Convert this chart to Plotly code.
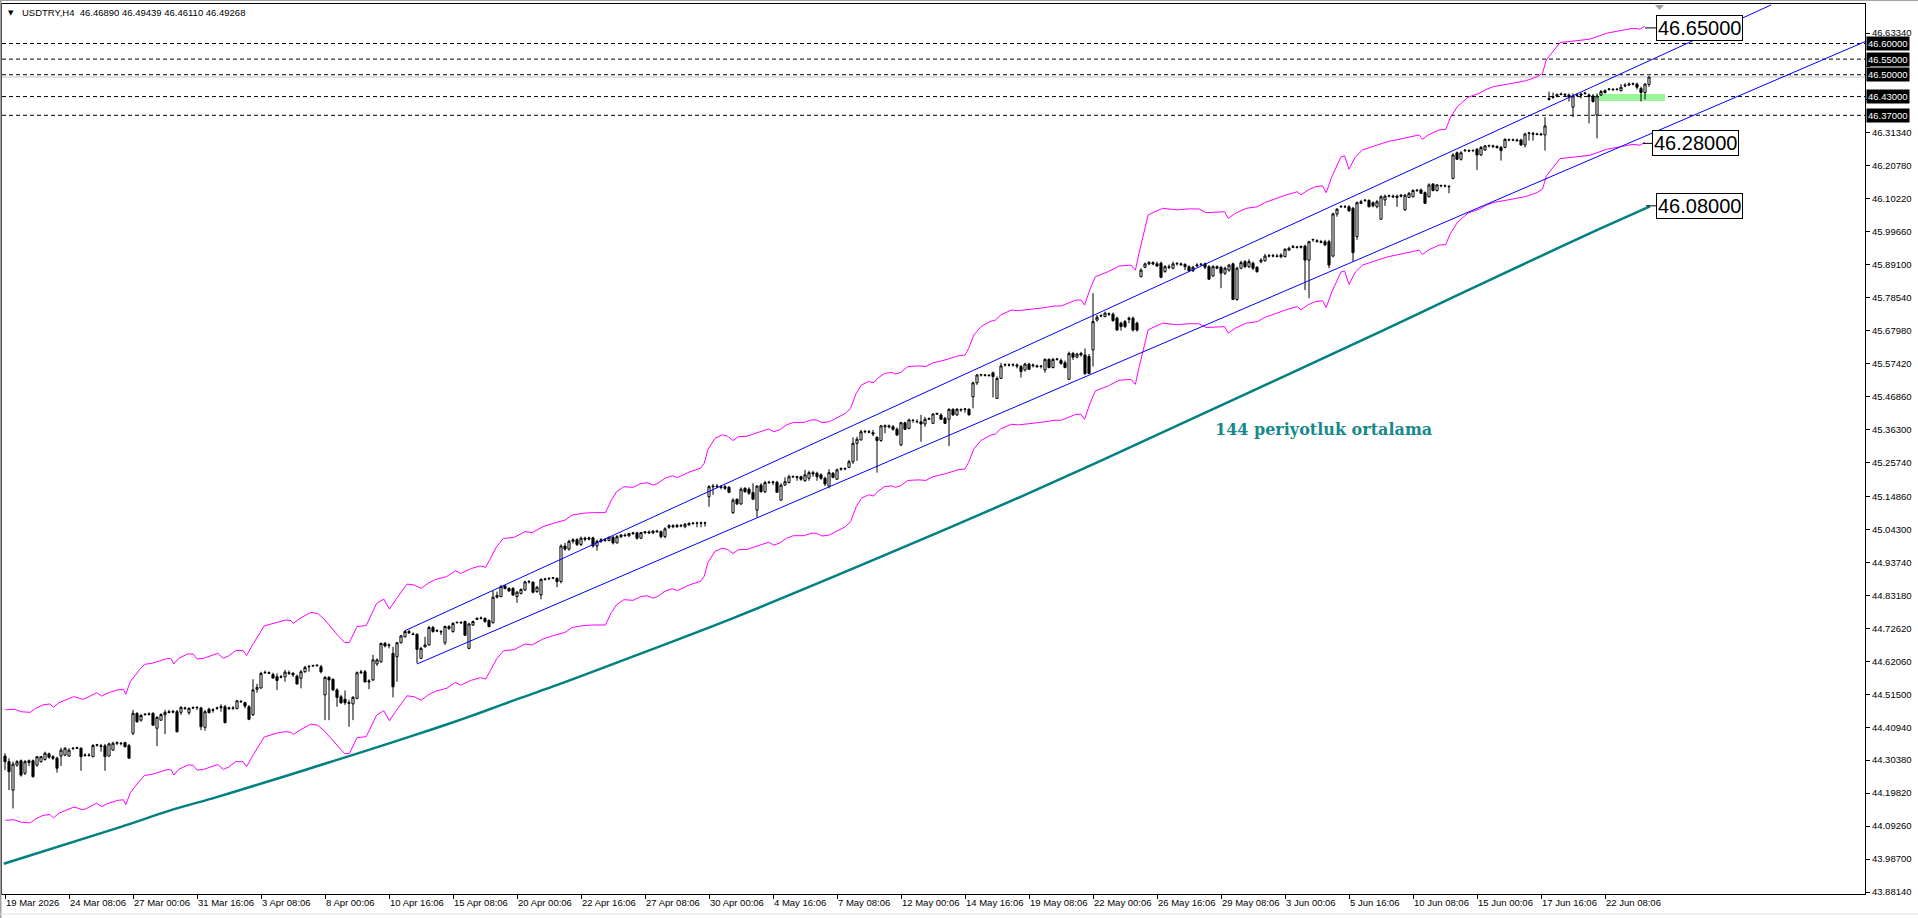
import plotly.graph_objects as go

# ---------------- data ----------------
symbol_title = "USDTRY,H4  46.46890 46.49439 46.46110 46.49268"

opens = [
44.317,44.299,44.208,44.288,44.302,44.262,44.296,44.302,44.288,44.299,
44.306,44.324,44.315,44.310,44.317,44.320,44.317,44.341,44.342,44.342,
44.319,44.319,44.315,44.352,44.350,44.350,44.317,44.336,44.358,44.358,
44.360,44.351,44.390,44.454,44.432,44.450,44.452,44.454,44.406,44.432,
44.449,44.459,44.460,44.459,44.457,44.471,44.456,44.471,44.473,44.471,
44.409,44.467,44.465,44.470,44.472,44.475,44.469,44.471,44.469,44.492,
44.488,44.475,44.449,44.531,44.535,44.584,44.584,44.578,44.571,44.571,
44.571,44.584,44.582,44.573,44.566,44.587,44.603,44.607,44.607,44.603,
44.513,44.569,44.563,44.529,44.507,44.499,44.488,44.484,44.502,44.584,
44.587,44.558,44.561,44.612,44.619,44.678,44.673,44.646,44.635,44.680,
44.699,44.716,44.708,44.707,44.630,44.667,44.673,44.729,44.719,44.716,
44.680,44.726,44.716,44.744,44.744,44.748,44.662,44.737,44.755,44.758,
44.758,44.751,44.744,44.826,44.828,44.862,44.854,44.854,44.828,44.838,
44.849,44.875,44.874,44.844,44.833,44.883,44.885,44.887,44.886,44.876,
44.990,44.980,45.005,45.010,44.995,45.015,45.012,45.016,44.990,45.005,
45.010,45.008,45.018,45.000,45.020,45.025,45.023,45.030,45.032,45.015,
45.033,45.035,45.032,45.038,45.036,45.020,45.050,45.055,45.052,45.056,
45.052,45.058,45.062,45.063,45.063,45.064,45.148,45.182,45.182,45.180,
45.180,45.178,45.097,45.140,45.125,45.175,45.172,45.161,45.105,45.185,
45.164,45.193,45.194,45.194,45.137,45.185,45.193,45.212,45.212,45.212,
45.199,45.207,45.225,45.223,45.218,45.207,45.182,45.223,45.204,45.236,
45.238,45.242,45.260,45.319,45.330,45.356,45.356,45.353,45.338,45.328,
45.372,45.375,45.372,45.364,45.314,45.385,45.367,45.392,45.388,45.388,
45.381,45.396,45.383,45.415,45.410,45.399,45.396,45.428,45.410,45.426,
45.428,45.428,45.468,45.513,45.538,45.538,45.537,45.545,45.463,45.527,
45.570,45.570,45.570,45.570,45.565,45.554,45.573,45.570,45.567,45.565,
45.554,45.588,45.562,45.588,45.584,45.577,45.524,45.607,45.595,45.607,
45.602,45.597,45.618,45.714,45.727,45.725,45.733,45.733,45.720,45.704,
45.709,45.716,45.720,45.704,45.853,45.883,45.894,45.898,45.894,45.896,
45.869,45.885,45.880,45.894,45.894,45.892,45.885,45.872,45.887,45.892,
45.894,45.885,45.855,45.885,45.883,45.864,45.874,45.894,45.780,45.880,
45.901,45.885,45.896,45.883,45.901,45.904,45.919,45.919,45.919,45.922,
45.917,45.938,45.947,45.947,45.947,45.951,45.906,45.971,45.968,45.965,
45.965,45.965,45.919,46.054,46.077,46.077,46.077,46.072,45.981,46.088,
46.097,46.097,46.090,46.077,46.037,46.099,46.111,46.111,46.111,46.114,
46.067,46.107,46.109,46.129,46.131,46.122,46.109,46.150,46.129,46.144,
46.144,46.141,46.168,46.250,46.229,46.257,46.257,46.257,46.261,46.243,
46.259,46.272,46.272,46.270,46.267,46.267,46.291,46.291,46.291,46.291,
46.275,46.312,46.312,46.310,46.310,46.307,46.424,46.430,46.432,46.438,
46.437,46.435,46.396,46.435,46.438,46.440,46.435,46.432,46.371,46.435,
46.443,46.453,46.453,46.453,46.449,46.464,46.467,46.470,46.470,46.456,46.443,46.46890]

highs = [
44.326,44.310,44.299,44.304,44.306,44.304,44.306,44.306,44.317,44.317,
44.331,44.328,44.320,44.315,44.344,44.345,44.342,44.345,44.347,44.345,
44.326,44.326,44.355,44.356,44.356,44.356,44.360,44.363,44.364,44.362,
44.363,44.356,44.465,44.457,44.452,44.454,44.457,44.457,44.445,44.454,
44.465,44.465,44.465,44.465,44.477,44.475,44.473,44.476,44.477,44.475,
44.465,44.472,44.470,44.475,44.483,44.481,44.475,44.477,44.497,44.497,
44.491,44.480,44.563,44.548,44.587,44.591,44.588,44.584,44.582,44.577,
44.593,44.591,44.586,44.578,44.593,44.606,44.609,44.610,44.610,44.609,
44.573,44.573,44.566,44.534,44.513,44.527,44.497,44.509,44.588,44.593,
44.593,44.563,44.641,44.630,44.680,44.683,44.678,44.667,44.683,44.705,
44.719,44.721,44.713,44.710,44.667,44.699,44.734,44.734,44.723,44.721,
44.735,44.736,44.746,44.749,44.749,44.751,44.744,44.751,44.761,44.764,
44.761,44.755,44.847,44.844,44.865,44.865,44.858,44.858,44.846,44.854,
44.879,44.881,44.877,44.862,44.886,44.888,44.890,44.891,44.890,44.995,
45.000,45.010,45.015,45.015,45.020,45.020,45.020,45.020,45.010,45.015,
45.015,45.020,45.022,45.025,45.028,45.030,45.032,45.035,45.036,45.035,
45.038,45.040,45.040,45.042,45.040,45.050,45.060,45.060,45.061,45.060,
45.064,45.066,45.067,45.068,45.068,45.068,45.185,45.189,45.189,45.185,
45.185,45.182,45.143,45.142,45.178,45.178,45.178,45.191,45.185,45.191,
45.199,45.199,45.199,45.199,45.191,45.210,45.218,45.215,45.215,45.215,
45.234,45.231,45.231,45.228,45.223,45.212,45.236,45.227,45.238,45.242,
45.242,45.266,45.338,45.340,45.362,45.362,45.362,45.362,45.342,45.378,
45.379,45.379,45.378,45.370,45.388,45.388,45.398,45.396,45.396,45.410,
45.404,45.402,45.415,45.417,45.415,45.404,45.431,45.431,45.432,45.431,
45.431,45.431,45.516,45.541,45.541,45.541,45.541,45.549,45.533,45.577,
45.575,45.575,45.575,45.575,45.570,45.577,45.577,45.575,45.571,45.570,
45.591,45.591,45.593,45.592,45.591,45.584,45.613,45.612,45.609,45.612,
45.623,45.605,45.800,45.730,45.733,45.741,45.738,45.738,45.725,45.709,
45.714,45.725,45.725,45.709,45.880,45.898,45.903,45.902,45.901,45.901,
45.890,45.892,45.901,45.900,45.898,45.896,45.889,45.887,45.896,45.896,
45.898,45.890,45.890,45.889,45.887,45.885,45.894,45.898,45.885,45.904,
45.906,45.909,45.901,45.887,45.912,45.926,45.926,45.926,45.926,45.928,
45.944,45.949,45.955,45.951,45.953,45.955,45.968,45.975,45.973,45.971,
45.971,45.971,46.058,46.073,46.082,46.082,46.082,46.077,46.094,46.099,
46.101,46.101,46.094,46.099,46.114,46.116,46.116,46.116,46.116,46.118,
46.118,46.124,46.133,46.133,46.135,46.126,46.152,46.152,46.150,46.148,
46.148,46.146,46.248,46.254,46.255,46.261,46.261,46.261,46.265,46.272,
46.275,46.276,46.276,46.274,46.272,46.296,46.295,46.295,46.295,46.295,
46.314,46.317,46.317,46.314,46.314,46.364,46.446,46.443,46.440,46.443,
46.441,46.440,46.440,46.440,46.443,46.445,46.440,46.438,46.440,46.451,
46.453,46.457,46.457,46.457,46.470,46.473,46.475,46.475,46.475,46.462,46.473,46.49439]

lows = [
44.272,44.208,44.149,44.283,44.251,44.256,44.285,44.248,44.283,44.296,
44.302,44.309,44.304,44.264,44.285,44.317,44.315,44.336,44.339,44.270,
44.315,44.315,44.313,44.347,44.331,44.270,44.315,44.334,44.352,44.351,
44.344,44.309,44.384,44.424,44.427,44.446,44.447,44.414,44.349,44.430,
44.387,44.454,44.454,44.393,44.449,44.465,44.449,44.467,44.465,44.400,
44.398,44.454,44.456,44.465,44.459,44.422,44.465,44.465,44.467,44.488,
44.470,44.432,44.445,44.520,44.533,44.580,44.580,44.565,44.529,44.566,
44.555,44.577,44.571,44.546,44.534,44.584,44.587,44.603,44.603,44.582,
44.432,44.432,44.526,44.475,44.484,44.481,44.411,44.432,44.499,44.580,
44.552,44.531,44.557,44.606,44.616,44.665,44.662,44.505,44.555,44.678,
44.697,44.708,44.704,44.614,44.628,44.665,44.671,44.712,44.714,44.705,
44.673,44.721,44.712,44.742,44.740,44.702,44.659,44.734,44.753,44.755,
44.744,44.729,44.742,44.822,44.826,44.851,44.844,44.830,44.808,44.835,
44.846,44.870,44.838,44.840,44.819,44.879,44.881,44.884,44.858,44.870,
44.975,44.975,44.998,44.990,44.990,45.005,45.008,44.985,44.975,45.000,
45.003,45.005,44.995,44.998,45.015,45.020,45.018,45.025,45.010,45.012,
45.028,45.030,45.028,45.032,45.015,45.015,45.045,45.047,45.048,45.050,
45.047,45.054,45.058,45.050,45.050,45.052,45.116,45.154,45.175,45.172,
45.170,45.159,45.093,45.121,45.121,45.161,45.154,45.137,45.082,45.161,
45.159,45.189,45.185,45.161,45.135,45.183,45.191,45.207,45.199,45.199,
45.196,45.199,45.212,45.199,45.202,45.182,45.175,45.207,45.202,45.231,
45.233,45.240,45.253,45.263,45.328,45.351,45.351,45.342,45.225,45.324,
45.351,45.367,45.360,45.342,45.310,45.362,45.364,45.385,45.383,45.324,
45.372,45.394,45.381,45.410,45.394,45.381,45.310,45.407,45.407,45.420,
45.417,45.409,45.431,45.506,45.533,45.533,45.533,45.466,45.461,45.525,
45.565,45.565,45.565,45.559,45.530,45.549,45.554,45.562,45.560,45.559,
45.545,45.559,45.559,45.584,45.571,45.559,45.522,45.586,45.591,45.597,
45.538,45.541,45.565,45.709,45.723,45.723,45.727,45.709,45.680,45.680,
45.688,45.704,45.677,45.677,45.851,45.880,45.890,45.890,45.885,45.848,
45.866,45.877,45.877,45.889,45.887,45.874,45.869,45.868,45.885,45.887,
45.877,45.842,45.853,45.877,45.816,45.858,45.869,45.778,45.776,45.877,
45.880,45.880,45.874,45.866,45.896,45.901,45.915,45.915,45.915,45.912,
45.915,45.936,45.944,45.943,45.943,45.810,45.784,45.965,45.962,45.960,
45.951,45.880,45.915,46.045,46.073,46.073,46.061,45.901,45.971,46.086,
46.092,46.075,46.075,46.072,46.035,46.080,46.107,46.105,46.077,46.107,
46.064,46.105,46.107,46.124,46.118,46.086,46.107,46.126,46.126,46.139,
46.139,46.120,46.165,46.227,46.225,46.252,46.252,46.252,46.195,46.240,
46.257,46.267,46.265,46.263,46.225,46.264,46.287,46.287,46.285,46.272,
46.267,46.289,46.289,46.306,46.304,46.257,46.417,46.423,46.428,46.434,
46.430,46.414,46.364,46.430,46.424,46.436,46.344,46.411,46.296,46.432,
46.440,46.449,46.449,46.449,46.446,46.460,46.464,46.466,46.453,46.414,46.421,46.46110]

closes = [
44.299,44.267,44.291,44.299,44.256,44.299,44.302,44.251,44.315,44.315,
44.326,44.313,44.310,44.278,44.336,44.342,44.336,44.342,44.344,44.315,
44.320,44.320,44.351,44.353,44.348,44.315,44.356,44.358,44.360,44.357,
44.347,44.310,44.454,44.427,44.447,44.451,44.451,44.416,44.441,44.450,
44.457,44.457,44.458,44.395,44.473,44.470,44.470,44.472,44.472,44.411,
44.459,44.456,44.464,44.471,44.475,44.424,44.471,44.470,44.494,44.491,
44.477,44.435,44.529,44.537,44.582,44.585,44.582,44.567,44.559,44.570,
44.586,44.582,44.577,44.548,44.587,44.601,44.604,44.606,44.608,44.587,
44.569,44.561,44.529,44.505,44.488,44.488,44.486,44.505,44.584,44.586,
44.555,44.555,44.625,44.625,44.678,44.670,44.672,44.539,44.680,44.702,
44.716,44.712,44.707,44.659,44.662,44.673,44.729,44.716,44.718,44.715,
44.732,44.732,44.742,44.745,44.745,44.704,44.740,44.748,44.758,44.759,
44.748,44.732,44.826,44.832,44.860,44.854,44.846,44.833,44.842,44.851,
44.875,44.876,44.842,44.858,44.883,44.884,44.886,44.888,44.876,44.990,
44.980,45.005,45.010,44.995,45.015,45.012,45.016,44.990,45.005,45.010,
45.008,45.018,45.000,45.020,45.025,45.023,45.030,45.032,45.015,45.033,
45.035,45.032,45.038,45.036,45.020,45.045,45.055,45.052,45.056,45.055,
45.060,45.062,45.063,45.063,45.064,45.064,45.180,45.180,45.180,45.178,
45.175,45.162,45.137,45.125,45.172,45.164,45.159,45.140,45.182,45.164,
45.193,45.194,45.195,45.162,45.185,45.196,45.212,45.213,45.210,45.204,
45.218,45.225,45.221,45.212,45.207,45.189,45.225,45.210,45.234,45.238,
45.237,45.260,45.319,45.332,45.356,45.357,45.355,45.349,45.328,45.375,
45.375,45.372,45.364,45.346,45.385,45.364,45.394,45.393,45.389,45.381,
45.396,45.398,45.413,45.413,45.396,45.383,45.428,45.410,45.428,45.427,
45.429,45.410,45.513,45.538,45.539,45.537,45.536,45.533,45.527,45.567,
45.571,45.570,45.571,45.567,45.549,45.573,45.556,45.568,45.565,45.566,
45.588,45.562,45.588,45.589,45.575,45.562,45.607,45.595,45.605,45.602,
45.543,45.543,45.709,45.723,45.728,45.736,45.734,45.712,45.682,45.693,
45.693,45.720,45.682,45.682,45.874,45.894,45.898,45.894,45.887,45.851,
45.885,45.883,45.894,45.895,45.892,45.885,45.872,45.883,45.890,45.893,
45.883,45.845,45.885,45.880,45.864,45.880,45.890,45.780,45.880,45.898,
45.885,45.901,45.880,45.869,45.906,45.919,45.920,45.920,45.918,45.917,
45.941,45.944,45.949,45.948,45.949,45.906,45.965,45.972,45.966,45.963,
45.955,45.890,46.054,46.069,46.078,46.077,46.064,45.930,46.090,46.093,
46.098,46.077,46.080,46.093,46.109,46.111,46.112,46.109,46.107,46.111,
46.114,46.120,46.129,46.130,46.120,46.088,46.147,46.129,46.147,46.145,
46.144,46.142,46.243,46.229,46.250,46.258,46.256,46.257,46.243,46.267,
46.272,46.273,46.270,46.267,46.257,46.293,46.292,46.291,46.289,46.275,
46.310,46.313,46.310,46.309,46.308,46.336,46.421,46.428,46.436,46.437,
46.435,46.428,46.432,46.434,46.435,46.441,46.430,46.414,46.432,46.446,
46.449,46.454,46.452,46.453,46.460,46.466,46.470,46.471,46.460,46.443,46.470,46.49268]

# time labels every 16 bars (H4)
time_labels = ["19 Mar 2026", "24 Mar 08:06", "27 Mar 00:06", "31 Mar 16:06", "3 Apr 08:06",
               "8 Apr 00:06", "10 Apr 16:06", "15 Apr 08:06", "20 Apr 00:06", "22 Apr 16:06",
               "27 Apr 08:06", "30 Apr 00:06", "4 May 16:06", "7 May 08:06", "12 May 00:06",
               "14 May 16:06", "19 May 08:06", "22 May 00:06", "26 May 16:06", "29 May 08:06",
               "3 Jun 00:06", "5 Jun 16:06", "10 Jun 08:06", "15 Jun 00:06", "17 Jun 16:06",
               "22 Jun 08:06"]
label_step = 16

price_ticks = [43.8814, 43.9870, 44.0926, 44.1982, 44.3038, 44.4094, 44.5150, 44.6206,
               44.7262, 44.8318, 44.9374, 45.0430, 45.1486, 45.2574, 45.3630, 45.4686,
               45.5742, 45.6798, 45.7854, 45.8910, 45.9966, 46.1022, 46.2078, 46.3134,
               46.4222, 46.5278, 46.6334]
hidden_ticks = [46.4222, 46.5278]   # covered by the level boxes on the price scale

# 144-period moving average (read points)
ma_bar = [-0.3, 29, 42.1, 52.3, 61.25, 70.2, 79.1, 85.8, 92.5, 101.4, 110.4, 119.3, 128.2,
          138.75, 182.2, 235.1, 254.3, 273.75, 344.4, 362.2, 380.3, 398.5, 411.25]
ma_val = [43.972, 44.090, 44.146, 44.183, 44.218, 44.253, 44.289, 44.316, 44.343, 44.380,
          44.418, 44.458, 44.500, 44.548, 44.760, 45.043, 45.150, 45.262, 45.680, 45.788,
          45.897, 46.005, 46.078]

# envelope bands (read points)
env_bar = [0.09, 2.3, 4.1, 6.3, 7.7, 9.5, 11.25, 12.1, 13.5, 15.3, 17.1, 18.0, 19.3, 20.2, 22.0,
           22.9, 24.2, 25.5, 28.2, 29.6, 30.2, 31.3, 33.6, 34.9, 36.7, 38.0, 40.7, 41.6, 42.2,
           43.4, 45.6, 47.0, 48.0, 49.6, 53.2, 54.6, 55.9, 57.7, 59.5, 60.4, 62.1, 64.8, 68.4,
           70.2, 71.5, 72.1, 73.75, 76.4, 78.2, 80.0, 83.1, 84.9, 86.1, 88.0, 90.3, 92.9, 94.7,
           96.1, 97.9, 100.5, 102.3, 104.1, 105.9, 107.7, 110.4, 112.6, 113.9, 116.6, 118.8,
           120.2, 122.9, 124.6, 127.3, 130.0, 131.8, 134.5, 137.1, 140.0, 141.8, 144.5, 147.1,
           150.1, 151.6, 152.9, 154.7, 157.0, 158.75, 160.5, 162.1, 163.2, 165.0, 166.8, 168.1,
           169.5, 171.25, 173.9, 174.8, 175.7, 177.5, 179.3, 180.6, 182.0, 183.3, 185.5, 187.3,
           189.1, 190.9, 192.2, 193.6, 195.4, 197.1, 199.8, 201.6, 202.9, 204.3, 206.1, 207.9,
           210.1, 211.4, 212.8, 214.1, 215.9, 217.2, 218.1, 219.9, 221.7, 222.6, 223.9, 225.7,
           228.4, 230.2, 232.0, 235.0, 236.4, 238.2, 240.0, 240.9, 242.2, 244.0, 246.25, 247.6,
           248.9, 251.6, 253.4, 255.2, 257.0, 258.75, 260.5, 262.3, 264.1, 265.9, 267.7, 269.0,
           269.9, 271.25, 272.6, 275.8, 278.5, 281.5, 282.6, 283.5, 285.8, 289.4, 293.1, 295.8,
           298.5, 300.3, 303.1, 304.9, 305.8, 307.6, 310.3, 313.1, 314.9, 316.7, 320.3, 323.1,
           324.0, 325.8, 327.6, 329.4, 330.3, 331.7, 334.0, 334.9, 336.0, 337.6, 339.4, 343.1,
           345.8, 348.5, 351.25, 353.5, 354.4, 355.8, 358.5, 360.2, 361.25, 363.1, 365.8, 368.5,
           370.3, 372.2, 375.8, 380.3, 383.1, 384.4, 385.3, 388.75, 396.25, 400.4, 407, 408.75, 410]
env_upper = [44.465, 44.467, 44.459, 44.457, 44.470, 44.481, 44.484, 44.473, 44.488, 44.497,
             44.507, 44.505, 44.499, 44.502, 44.515, 44.520, 44.509, 44.518, 44.529, 44.531,
             44.515, 44.555, 44.593, 44.611, 44.614, 44.619, 44.630, 44.628, 44.612, 44.630,
             44.644, 44.644, 44.628, 44.630, 44.646, 44.630, 44.638, 44.655, 44.655, 44.639,
             44.678, 44.734, 44.748, 44.753, 44.751, 44.742, 44.758, 44.777, 44.774, 44.753,
             44.705, 44.681, 44.681, 44.732, 44.735, 44.806, 44.820, 44.788, 44.822, 44.868,
             44.865, 44.854, 44.872, 44.883, 44.892, 44.911, 44.902, 44.918, 44.926, 44.922,
             44.988, 45.014, 45.018, 45.036, 45.033, 45.052, 45.063, 45.073, 45.089, 45.095,
             45.097, 45.097, 45.137, 45.164, 45.180, 45.178, 45.189, 45.193, 45.185, 45.191,
             45.207, 45.215, 45.209, 45.218, 45.228, 45.239, 45.255, 45.298, 45.335, 45.346,
             45.342, 45.328, 45.340, 45.342, 45.349, 45.356, 45.365, 45.356, 45.362, 45.378,
             45.386, 45.386, 45.394, 45.394, 45.385, 45.388, 45.399, 45.415, 45.431, 45.479,
             45.506, 45.517, 45.513, 45.527, 45.543, 45.546, 45.541, 45.546, 45.565, 45.567,
             45.565, 45.577, 45.586, 45.591, 45.599, 45.602, 45.623, 45.666, 45.693, 45.709,
             45.714, 45.730, 45.746, 45.744, 45.746, 45.748, 45.752, 45.755, 45.759, 45.759,
             45.768, 45.778, 45.778, 45.762, 45.813, 45.853, 45.869, 45.887, 45.890, 45.874,
             45.928, 46.051, 46.072, 46.067, 46.070, 46.070, 46.058, 46.061, 46.061, 46.040,
             46.056, 46.072, 46.077, 46.090, 46.099, 46.115, 46.125, 46.115, 46.131, 46.141,
             46.144, 46.122, 46.173, 46.237, 46.240, 46.197, 46.237, 46.259, 46.275, 46.286,
             46.293, 46.302, 46.307, 46.293, 46.307, 46.323, 46.325, 46.360, 46.398, 46.428,
             46.440, 46.453, 46.462, 46.470, 46.481, 46.494, 46.505, 46.547, 46.603, 46.614,
             46.633, 46.649, 46.646, 46.656]
env_lower = [44.111, 44.113, 44.105, 44.103, 44.116, 44.127, 44.130, 44.119, 44.134, 44.143,
             44.153, 44.151, 44.145, 44.148, 44.161, 44.166, 44.155, 44.164, 44.175, 44.177,
             44.161, 44.199, 44.237, 44.255, 44.258, 44.263, 44.274, 44.272, 44.256, 44.274,
             44.288, 44.288, 44.272, 44.274, 44.290, 44.274, 44.282, 44.299, 44.299, 44.283,
             44.322, 44.378, 44.392, 44.395, 44.393, 44.386, 44.400, 44.419, 44.416, 44.395,
             44.349, 44.325, 44.325, 44.376, 44.379, 44.448, 44.462, 44.430, 44.464, 44.510,
             44.507, 44.496, 44.514, 44.525, 44.534, 44.553, 44.544, 44.560, 44.568, 44.564,
             44.628, 44.654, 44.658, 44.676, 44.673, 44.692, 44.703, 44.713, 44.729, 44.735,
             44.737, 44.737, 44.777, 44.802, 44.818, 44.816, 44.827, 44.831, 44.823, 44.829,
             44.845, 44.853, 44.847, 44.856, 44.866, 44.877, 44.893, 44.936, 44.973, 44.983,
             44.979, 44.966, 44.978, 44.979, 44.986, 44.993, 45.002, 44.993, 44.999, 45.015,
             45.023, 45.023, 45.031, 45.031, 45.022, 45.025, 45.036, 45.052, 45.068, 45.116,
             45.143, 45.154, 45.150, 45.164, 45.180, 45.183, 45.178, 45.183, 45.200, 45.202,
             45.200, 45.212, 45.221, 45.226, 45.234, 45.237, 45.258, 45.301, 45.328, 45.344,
             45.349, 45.365, 45.380, 45.378, 45.380, 45.382, 45.386, 45.389, 45.393, 45.393,
             45.402, 45.412, 45.412, 45.396, 45.447, 45.487, 45.503, 45.521, 45.524, 45.508,
             45.562, 45.683, 45.704, 45.699, 45.702, 45.702, 45.690, 45.693, 45.693, 45.672,
             45.688, 45.704, 45.709, 45.722, 45.731, 45.747, 45.757, 45.747, 45.763, 45.773,
             45.776, 45.754, 45.804, 45.868, 45.871, 45.828, 45.868, 45.890, 45.906, 45.917,
             45.924, 45.933, 45.938, 45.924, 45.938, 45.954, 45.956, 45.989, 46.027, 46.057,
             46.069, 46.082, 46.091, 46.099, 46.110, 46.123, 46.134, 46.175, 46.231, 46.242,
             46.261, 46.277, 46.274, 46.284]

# trend channel (two lines, bar index / price)
chan_upper_bar = [100, 441.5]
chan_upper_val = [44.7187, 46.7235]
chan_lower_bar = [103, 465]
chan_lower_val = [44.612, 46.606]

# horizontal levels
levels = [46.60, 46.55, 46.50, 46.43, 46.37]
bid_price = 46.49268
zone_bars = [398.5, 415]
zone_prices = [46.416, 46.438]

# callout labels
callout_values = [46.65, 46.28, 46.08]
ma_caption = "144 periyotluk ortalama"

# ---------------- figure ----------------
n = len(closes)
bars = list(range(n))
FONT = "Liberation Sans, Arial, sans-serif"

fig = go.Figure()

fig.add_trace(go.Scatter(x=env_bar, y=env_upper, mode="lines",
                         line=dict(color="#FF00FF", width=1), hoverinfo="skip"))
fig.add_trace(go.Scatter(x=env_bar, y=env_lower, mode="lines",
                         line=dict(color="#FF00FF", width=1), hoverinfo="skip"))
fig.add_trace(go.Scatter(x=ma_bar, y=ma_val, mode="lines", line_shape="spline",
                         line=dict(color="#008080", width=2.5, smoothing=0.6), hoverinfo="skip"))
fig.add_trace(go.Scatter(x=chan_upper_bar, y=chan_upper_val, mode="lines",
                         line=dict(color="#0000FF", width=1), hoverinfo="skip"))
fig.add_trace(go.Scatter(x=chan_lower_bar, y=chan_lower_val, mode="lines",
                         line=dict(color="#0000FF", width=1), hoverinfo="skip"))
fig.add_trace(go.Candlestick(
    x=bars, open=opens, high=highs, low=lows, close=closes,
    increasing=dict(line=dict(color="black", width=1), fillcolor="white"),
    decreasing=dict(line=dict(color="black", width=1), fillcolor="black"),
    whiskerwidth=0, hoverinfo="skip"))

shapes = []
shapes.append(dict(type="rect", xref="x", yref="y", x0=zone_bars[0], x1=zone_bars[1],
                   y0=zone_prices[0], y1=zone_prices[1], fillcolor="#98F598",
                   line=dict(width=0), layer="below"))
shapes.append(dict(type="line", xref="paper", yref="y", x0=0, x1=1, y0=bid_price, y1=bid_price,
                   line=dict(color="#C0C0C0", width=1), layer="below"))
for lv in levels:
    shapes.append(dict(type="line", xref="paper", yref="y", x0=0, x1=1, y0=lv, y1=lv,
                       line=dict(color="black", width=1, dash="4px,3px"), layer="below"))

# leader lines for callouts: from the indicator end to the label box
leader_x = [(410, 412.75), (409.5, 411.75), (410.25, 412.75)]
for (xa, xb), v in zip(leader_x, callout_values):
    shapes.append(dict(type="line", xref="x", yref="y", x0=xa, x1=xb, y0=v, y1=v,
                       line=dict(color="black", width=1)))

# window frame pieces and chart-shift marker
shapes.append(dict(type="line", xref="paper", yref="paper", x0=-0.0012, x1=1.03,
                   y0=1.0039, y1=1.0039, line=dict(color="#A0A0A0", width=1)))
shapes.append(dict(type="line", xref="paper", yref="paper", x0=-0.0008, x1=-0.0008,
                   y0=-0.03, y1=1.005, line=dict(color="#A0A0A0", width=2)))
shapes.append(dict(type="line", xref="paper", yref="paper", x0=-0.0012, x1=1.03,
                   y0=-0.0225, y1=-0.0225, line=dict(color="#E0E0E0", width=1)))
shapes.append(dict(type="path", xref="paper", yref="paper",
                   path="M 0.8873 0.9989 L 0.8921 0.9989 L 0.8897 0.9933 Z",
                   fillcolor="#A0A0A0", line=dict(width=0)))

annotations = []
annotations.append(dict(xref="paper", yref="paper", x=0.0049, y=0.9899, xanchor="center",
                        yanchor="middle", text="▼", showarrow=False,
                        font=dict(family="DejaVu Sans", size=7, color="black")))
annotations.append(dict(xref="paper", yref="paper", x=0.0097, y=0.9899, xanchor="left",
                        yanchor="middle", text=symbol_title, showarrow=False,
                        font=dict(family=FONT, size=9.5, color="black")))
for lv in levels:
    annotations.append(dict(xref="paper", yref="y", x=1.0, xshift=1, y=lv, xanchor="left",
                            yanchor="middle", text=f"{lv:.5f}", showarrow=False,
                            bgcolor="black", borderpad=1,
                            font=dict(family=FONT, size=9.5, color="white")))
callout_x = [412.75, 411.75, 412.75]
for cx, v in zip(callout_x, callout_values):
    annotations.append(dict(xref="x", yref="y", x=cx, y=v, xanchor="left", yanchor="middle",
                            text=f"{v:.5f}", showarrow=False, bgcolor="white",
                            bordercolor="black", borderwidth=1, borderpad=1,
                            font=dict(family=FONT, size=20, color="black")))
annotations.append(dict(xref="x", yref="y", x=302, y=45.362, xanchor="left", yanchor="middle",
                        text=f"<b>{ma_caption}</b>", showarrow=False,
                        font=dict(family="DejaVu Serif, serif", size=16, color="#17898B")))

tick_text = ["" if t in hidden_ticks else f"{t:.5f}" for t in price_ticks]

fig.update_layout(
    width=1918, height=918, autosize=False,
    margin=dict(l=2, r=53, t=4, b=24, pad=0, autoexpand=False),
    paper_bgcolor="white", plot_bgcolor="white",
    showlegend=False, hovermode=False, boxgap=0.25,
    font=dict(family=FONT, size=9.5, color="black"),
    shapes=shapes, annotations=annotations,
    xaxis=dict(range=[-0.75, 465], showgrid=False, zeroline=False, rangeslider=dict(visible=False),
               tickmode="array", tickvals=[i * label_step for i in range(len(time_labels))],
               ticktext=time_labels, ticks="outside", ticklen=4, tickcolor="black",
               tickangle=0, automargin=False, ticklabelposition="outside right",
               showline=True, linecolor="black", linewidth=1, mirror=True,
               tickfont=dict(family=FONT, size=9.5, color="black")),
    yaxis=dict(range=[43.875, 46.7266], side="right", showgrid=False, zeroline=False,
               automargin=False,
               tickmode="array", tickvals=price_ticks, ticktext=tick_text,
               ticks="outside", ticklen=4, tickcolor="black",
               showline=True, linecolor="black", linewidth=1, mirror=True,
               tickfont=dict(family=FONT, size=9.5, color="black")),
)

fig.write_html("out.html")
